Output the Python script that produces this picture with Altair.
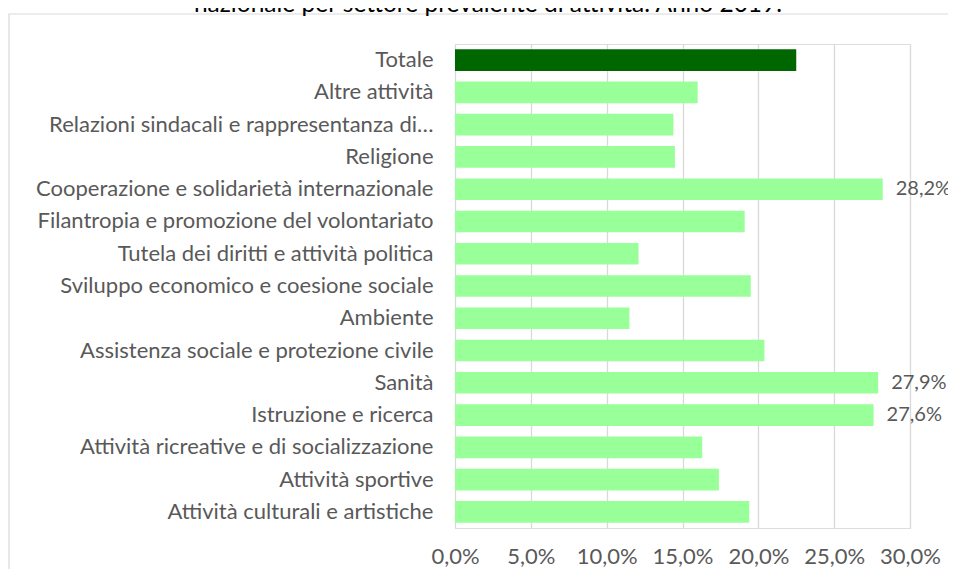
import altair as alt
import pandas as pd

categories = [
    "Totale",
    "Altre attività ",
    "Relazioni sindacali e rappresentanza di…",
    "Religione",
    "Cooperazione e solidarietà internazionale",
    "Filantropia e promozione del volontariato",
    "Tutela dei diritti e attività politica",
    "Sviluppo economico e coesione sociale",
    "Ambiente",
    "Assistenza sociale e protezione civile",
    "Sanità ",
    "Istruzione e ricerca",
    "Attività ricreative e di socializzazione",
    "Attività sportive",
    "Attività culturali e artistiche",
]
values = [22.5, 16.0, 14.4, 14.5, 28.2, 19.1, 12.1, 19.5, 11.5, 20.4, 27.9, 27.6, 16.3, 17.4, 19.4]
shown_labels = ["", "", "", "", "28,2%", "", "", "", "", "", "27,9%", "27,6%", "", "", ""]
groups = ["Totale"] + ["Settore"] * 14
tick_values = [0, 5, 10, 15, 20, 25, 30]
title_text = "nazionale per settore prevalente di attività. Anno 2019."

df = pd.DataFrame({"cat": categories, "val": values, "lab": shown_labels, "grp": groups})

FONT = "Lato"
TXT = "#595959"
FS = 22

y_enc = alt.Y(
    "cat:N", sort=categories, title=None,
    scale=alt.Scale(paddingInner=0.33, paddingOuter=0.165),
    axis=alt.Axis(ticks=False, domain=False, labelPadding=22, labelFontSize=FS,
                  labelColor=TXT, labelFont=FONT, labelLimit=600),
)
x_enc = alt.X(
    "val:Q", title=None,
    scale=alt.Scale(domain=[0, 30], nice=False),
    axis=alt.Axis(values=tick_values, ticks=False, domain=False, grid=True,
                  gridColor="#d9d9d9", gridWidth=1.3, labelPadding=18,
                  labelFlush=False, labelOverlap=False,
                  labelFontSize=FS, labelColor=TXT, labelFont=FONT,
                  labelExpr="replace(format(datum.value, '.1f'), '.', ',') + '%'"),
)

base = alt.Chart(df)

bars = base.mark_bar().encode(
    y=y_enc, x=x_enc,
    color=alt.Color("grp:N", scale=alt.Scale(domain=["Totale", "Settore"], range=["#006600", "#99ff99"]), legend=None),
)

labels = base.mark_text(align="left", baseline="middle", dx=13, font=FONT, fontSize=20, color=TXT).encode(
    y=alt.Y("cat:N", sort=categories), x="val:Q", text="lab:N"
)

deco = alt.Chart(alt.Data(values=[{"t": title_text}]))
border = deco.mark_rect(fillOpacity=0, stroke="#d9d9d9", strokeWidth=1.2).encode(
    x=alt.value(-446), x2=alt.value(700), y=alt.value(-30), y2=alt.value(700)
)
title = deco.mark_text(align="center", baseline="alphabetic", font=FONT, fontSize=24.5, color="#000000").encode(
    x=alt.value(33), y=alt.value(-32), text="t:N"
)

chart = alt.layer(border, title, bars, labels).properties(
    width=455, height=484,
    autosize=alt.AutoSizeParams(type="none"),
    padding={"left": 447, "top": 36, "right": 38, "bottom": 41},
).configure_view(stroke=None).configure(background="white")

chart.save("out.html", embed_options={"renderer": "svg", "actions": False})
